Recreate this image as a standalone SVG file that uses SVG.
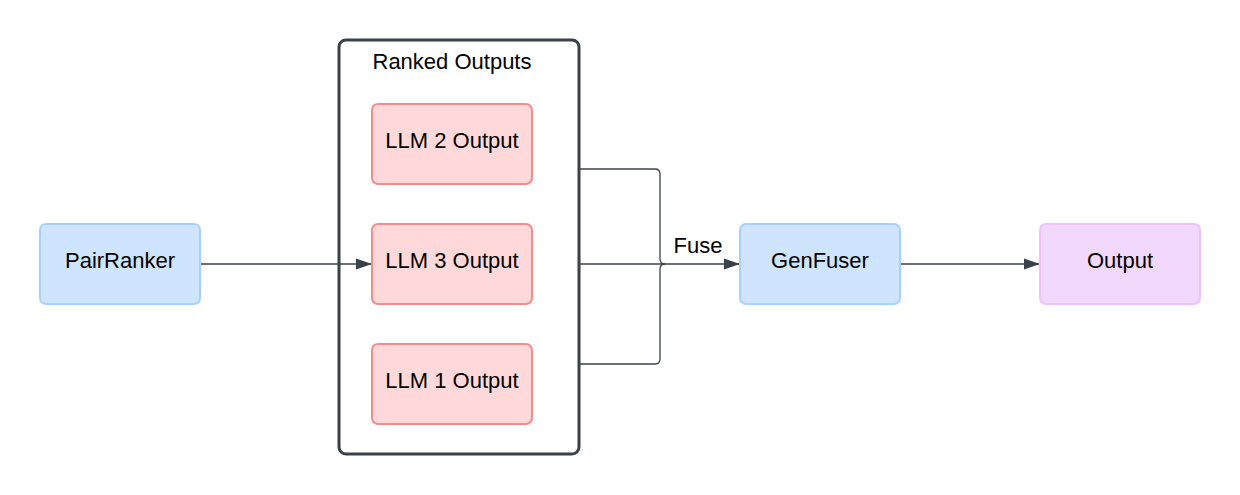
<svg xmlns="http://www.w3.org/2000/svg" width="1240" height="495" viewBox="0 0 1240 495">
<defs>
<style>
text{font-family:"Liberation Sans",Arial,sans-serif;font-size:22px;fill:#000;text-anchor:middle;dominant-baseline:central}
.blue{fill:#cfe4ff;stroke:#a8d0ff;stroke-width:2}
.red{fill:#ffd9d9;stroke:#f38c8c;stroke-width:2}
.purple{fill:#f3d8fd;stroke:#ecc3fb;stroke-width:2}
.edge{fill:none;stroke:#3a414a;stroke-width:1.3}
</style>
<marker id="arr" viewBox="0 0 10 10" refX="10" refY="5" markerWidth="16" markerHeight="16" markerUnits="userSpaceOnUse" orient="auto">
<path d="M0 1.5 L10 5 L0 8.5 Z" fill="#3a414a"/>
</marker>
</defs>
<rect width="1240" height="495" fill="#fff"/>
<g id="container">
<rect x="339" y="40" width="240" height="414" rx="7" fill="#fff" stroke="#3a414a" stroke-width="3"/>
<text x="452" y="61">Ranked Outputs</text>
</g>
<g id="connectors">
<path class="edge" d="M200 264 H372" marker-end="url(#arr)"/>
<path class="edge" d="M580 169 H655 Q660 169 660 174 V259 Q660 264 665 264"/>
<path class="edge" d="M580 364 H655 Q660 364 660 359 V269 Q660 264 665 264"/>
<path class="edge" d="M580 264 H740" marker-end="url(#arr)"/>
<path class="edge" d="M900 264 H1040" marker-end="url(#arr)"/>
<text x="698" y="245">Fuse</text>
</g>
<g id="pairranker">
<rect class="blue" x="40" y="224" width="160" height="80" rx="6"/>
<text x="120" y="260">PairRanker</text>
</g>
<g id="llm2">
<rect class="red" x="372" y="104" width="160" height="80" rx="6"/>
<text x="452" y="140">LLM 2 Output</text>
</g>
<g id="llm3">
<rect class="red" x="372" y="224" width="160" height="80" rx="6"/>
<text x="452" y="260">LLM 3 Output</text>
</g>
<g id="llm1">
<rect class="red" x="372" y="344" width="160" height="80" rx="6"/>
<text x="452" y="380">LLM 1 Output</text>
</g>
<g id="genfuser">
<rect class="blue" x="740" y="224" width="160" height="80" rx="6"/>
<text x="820" y="260">GenFuser</text>
</g>
<g id="output">
<rect class="purple" x="1040" y="224" width="160" height="80" rx="6"/>
<text x="1120" y="260">Output</text>
</g>
</svg>
